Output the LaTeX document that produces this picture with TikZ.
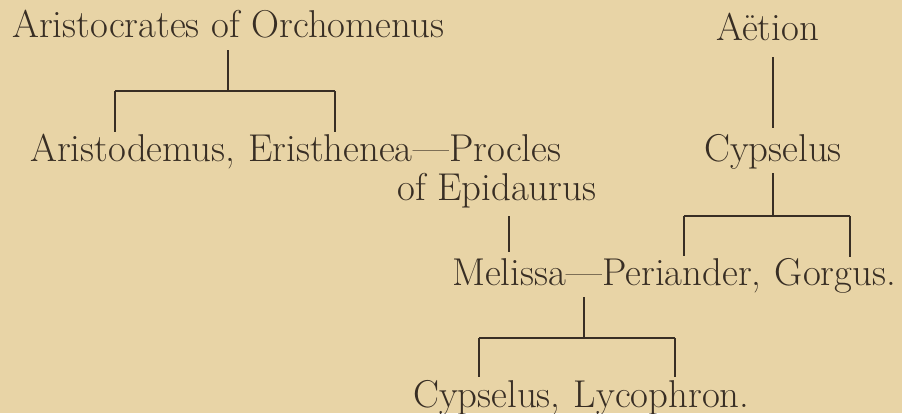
\documentclass[tikz,border=0pt]{standalone}
\usepackage{fontspec}
\usepackage{tikz}
\usetikzlibrary{positioning}
\definecolor{paper}{RGB}{232,212,166}
\definecolor{ink}{RGB}{56,46,36}
\tikzset{kin/.style={draw=ink,line width=1.4pt},
 person/.style={inner sep=0pt,anchor=base west,text=ink,font=\fontsize{38.8}{46}\selectfont,text height=27pt,text depth=7.5pt},
 every picture/.style={line join=round,line cap=butt}}
\begin{document}
\begin{tikzpicture}[x=1pt,y=1pt]
\useasboundingbox[fill=paper] (0,0) rectangle (902,-413);
\node[person] (aristocrates) at (12,-37) {Aristocrates of Orchomenus};
\node[person] (aetion) at (716,-40) {Aëtion};
\node[person] (aristodemus) at (30,-161) {Aristodemus,};
\node[person] (eristhenea) at ([xshift=12.9]aristodemus.base east) {Eristhenea};
\node[person] (wed1) at (eristhenea.base east) {---};
\node[person] (procles) at (wed1.base east) {Procles};
\node[person] (epidaurus) at (397,-200) {of Epidaurus};
\node[person] (cypselusA) at (704,-161) {Cypselus};
\node[person] (melissa) at (452,-285) {Melissa};
\node[person] (wed2) at (melissa.base east) {---};
\node[person] (periander) at (wed2.base east) {Periander,};
\node[person] (gorgus) at ([xshift=12.9]periander.base east) {Gorgus.};
\node[person] (cypselusB) at (413,-407) {Cypselus,};
\node[person] (lycophron) at ([xshift=12.9]cypselusB.base east) {Lycophron.};
\coordinate (f1l) at (115,-91);
\coordinate (f1r) at (335,-91);
\coordinate (f2l) at (684,-216);
\coordinate (f2r) at (850,-216);
\coordinate (f3l) at (479,-338);
\coordinate (f3r) at (675,-338);
\draw[kin,shorten <=5.5pt] (aristocrates.south) -- (aristocrates.south |- f1l);
\draw[kin] (f1l) -- (f1r);
\draw[kin,shorten >=2pt] (f1l) -- (f1l |- aristodemus.north);
\draw[kin,shorten >=2pt] (f1r) -- (f1r |- eristhenea.north);
\draw[kin,shorten <=9.5pt,shorten >=6pt] (cypselusA.north |- aetion.south) -- (cypselusA.north);
\draw[kin,shorten <=4.5pt] (cypselusA.south) -- (cypselusA.south |- f2l);
\draw[kin] (f2l) -- (f2r);
\draw[kin,shorten >=2pt] (f2l) -- (f2l |- periander.north);
\draw[kin,shorten >=1pt] (f2r) -- (f2r |- gorgus.north);
\draw[kin,shorten <=8.5pt,shorten >=6pt] (melissa.north |- epidaurus.south) -- (melissa.north);
\draw[kin,shorten <=4.5pt] (wed2.south) -- (wed2.south |- f3l);
\draw[kin] (f3l) -- (f3r);
\draw[kin,shorten >=3pt] (f3l) -- (f3l |- cypselusB.north);
\draw[kin,shorten >=3pt] (f3r) -- (f3r |- lycophron.north);
\end{tikzpicture}
\end{document}
